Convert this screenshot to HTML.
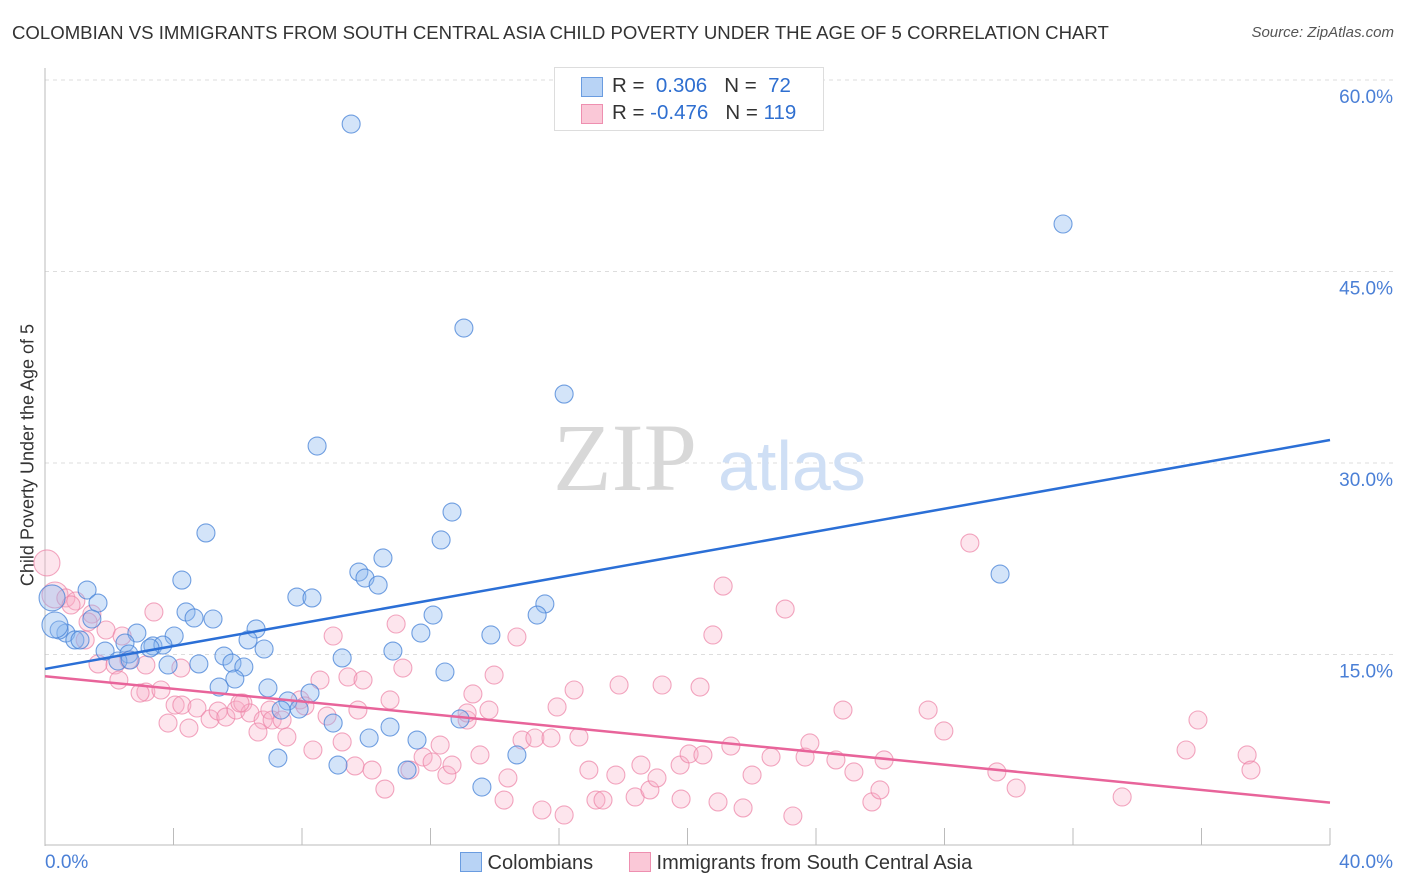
<!DOCTYPE html>
<html><head><meta charset="utf-8"><style>
body{margin:0;background:#fff;font-family:"Liberation Sans",sans-serif;}
#wrap{position:relative;width:1406px;height:892px;overflow:hidden;}
.t{position:absolute;white-space:nowrap;}
</style></head><body>
<div id="wrap">
<div class="t" style="left:12px;top:22px;font-size:18.6px;color:#333;">COLOMBIAN VS IMMIGRANTS FROM SOUTH CENTRAL ASIA CHILD POVERTY UNDER THE AGE OF 5 CORRELATION CHART</div>
<div class="t" style="right:12px;top:24px;font-size:15px;color:#555;font-style:italic;">Source: ZipAtlas.com</div>
<svg id="svg" width="1406" height="892" style="position:absolute;left:0;top:0"></svg>
</div>
<script>
const yTicks=[15,30,45,60];
const xTickLabels=["0.0%","40.0%"];
const blueX=[9.53,31.69,13.04,16.16,8.47,12.67,5.01,12.33,10.52,29.73,9.77,9.96,10.37,4.26,1.31,7.84,8.31,15.56,1.65,4.39,5.23,4.64,15.32,12.08,11.7,13.88,6.57,2.86,4.02,0.65,0.44,0.93,1.09,2.49,3.36,3.67,6.82,10.83,3.27,1.87,2.61,2.27,9.25,5.57,4.79,3.83,5.82,6.19,12.45,5.91,6.94,5.42,8.25,7.56,7.91,7.35,12.92,8.97,10.74,10.09,11.58,14.69,7.25,9.12,11.27,13.6,0.31,0.22,1.46,6.32,2.65];
const blueY=[56.55,48.72,40.57,35.4,31.33,26.16,24.52,23.97,22.56,21.3,21.46,20.99,20.44,20.83,20.05,19.5,19.43,18.96,19.03,18.33,17.78,17.86,18.09,18.09,16.68,16.53,17.0,16.68,16.45,16.68,16.92,16.14,16.14,15.9,15.67,15.74,15.43,15.27,15.51,15.27,15.04,14.49,14.73,14.88,14.26,14.18,14.33,14.02,13.63,13.08,12.38,12.45,11.98,11.36,10.73,10.65,9.95,9.63,9.32,8.46,8.3,7.13,6.89,6.34,5.95,4.62,17.31,19.43,17.78,16.14,14.57];
const pinkX=[0.06,0.31,0.65,0.96,0.81,1.46,1.34,1.9,2.4,3.39,2.61,1.25,1.65,2.18,3.14,3.14,3.61,4.23,2.3,2.96,3.83,4.48,4.05,4.26,4.73,5.14,5.39,5.63,5.95,6.16,6.38,6.79,7.0,6.63,6.07,7.53,7.07,7.38,7.94,8.09,8.56,8.34,8.78,8.97,9.43,9.9,9.25,9.65,10.18,9.74,10.58,10.74,10.93,11.14,11.36,11.77,12.05,12.3,12.51,12.67,13.14,13.32,13.14,13.82,13.98,13.54,14.41,14.29,14.69,14.85,15.25,15.75,15.94,16.47,15.47,16.16,16.62,16.93,17.15,17.37,17.77,17.87,18.37,18.55,18.83,19.05,19.21,19.77,19.8,20.05,20.39,20.48,20.79,20.95,21.11,21.35,21.73,22.01,22.6,23.04,23.28,23.66,23.81,24.62,24.84,25.18,25.74,25.99,26.12,27.49,27.98,28.79,29.63,30.23,33.53,35.52,35.89,37.42,37.54];
const pinkY=[22.17,19.66,19.43,19.19,18.88,18.17,17.55,16.92,16.45,18.33,14.57,16.14,14.26,14.18,14.18,12.06,12.22,13.94,13.0,11.98,9.63,9.24,11.04,11.04,10.81,9.95,10.57,10.1,10.65,11.2,10.42,9.87,10.65,8.93,11.2,8.54,9.87,9.87,11.44,10.97,13.0,7.52,10.18,16.45,13.24,13.0,8.15,6.27,5.95,10.65,4.46,11.44,17.39,13.94,5.95,6.97,6.58,7.91,5.56,6.34,9.87,11.91,10.42,10.65,13.39,7.13,5.33,3.6,16.37,8.3,8.46,8.46,10.89,12.22,2.82,2.43,8.54,5.95,3.6,3.6,5.56,12.61,3.84,6.34,4.39,5.33,12.61,6.34,3.68,7.21,12.45,7.13,16.53,3.45,20.36,7.83,2.98,5.56,6.97,18.56,2.35,6.97,8.07,6.74,10.65,5.8,3.45,4.39,6.74,10.65,9.01,23.73,5.8,4.54,3.84,7.52,9.87,7.13,5.95];
const blueTrend=[13.87,31.8];
const pinkTrend=[13.3,3.4];
const X0=45,X1=1330,Y0=846,PXPER=191.5/15;
const sx=v=>X0+(v/40)*(X1-X0);
const sy=v=>Y0-v*PXPER;
const NS="http://www.w3.org/2000/svg";
const svg=document.getElementById('svg');
function mk(tag,attrs){const e=document.createElementNS(NS,tag);for(const k in attrs)e.setAttribute(k,attrs[k]);svg.appendChild(e);return e;}
yTicks.forEach(v=>{
  const g=mk('line',{x1:X0,x2:1394,y1:sy(v),y2:sy(v),stroke:'#ddd','stroke-dasharray':'4,4'});
  
  
  const t=mk('text',{x:1393,y:sy(v)+23,'text-anchor':'end','font-size':19,fill:'#4a7fd6','font-family':'Liberation Sans, sans-serif'});
  t.textContent=v.toFixed(1)+'%';
  
  
});
const ax=mk('line',{x1:X0,x2:X0,y1:68,y2:846,stroke:'#bbb'});


const bx=mk('line',{x1:X0,x2:X1,y1:845,y2:845,stroke:'#bbb'});


for(let k=1;k<=10;k++){
  const tk=mk('line',{x1:sx(k*4),x2:sx(k*4),y1:828,y2:845,stroke:'#bbb'});
  
  
}
const wm1=mk('text',{x:553,y:490,'font-size':96,fill:'#d8d8d8','font-family':'Liberation Serif, serif'});wm1.textContent='ZIP';


const wm2=mk('text',{x:718,y:490,'font-size':70,fill:'#cfdff5','font-family':'Liberation Sans, sans-serif'});wm2.textContent='atlas';


function dots(xs,ys,fill,stroke,name){
  xs.forEach((x,i)=>{
    const r=x<0.4?13:9;
    const c=mk('circle',{cx:sx(x),cy:sy(ys[i]),r:r,fill:fill,stroke:stroke,'stroke-width':1.1});
    
    
  });
}
dots(pinkX,pinkY,'rgba(248,175,198,0.32)','rgba(236,130,165,0.7)','immigrant-point');
dots(blueX,blueY,'rgba(140,185,240,0.38)','rgba(70,130,215,0.75)','colombian-point');
const bl=mk('line',{x1:sx(0),y1:sy(blueTrend[0]),x2:sx(40),y2:sy(blueTrend[1]),stroke:'#2b6fd6','stroke-width':2.5});


const pl=mk('line',{x1:sx(0),y1:sy(pinkTrend[0]),x2:sx(40),y2:sy(pinkTrend[1]),stroke:'#e8649a','stroke-width':2.5});


</script>
<div class="t" style="left:28px;top:455px;font-size:18px;color:#333;transform:translate(-50%,-50%) rotate(-90deg);">Child Poverty Under the Age of 5</div>
<div class="t" style="left:45px;top:852px;font-size:19px;color:#4a7fd6;">0.0%</div>
<div class="t" style="right:13px;top:852px;font-size:19px;color:#4a7fd6;">40.0%</div>
<div style="position:absolute;left:554px;top:67px;width:268px;height:62px;border:1px solid #ddd;background:#fff;font-size:20.5px;color:#333;">
 <div style="position:absolute;left:26px;top:9px;width:20px;height:18px;background:#b8d3f5;border:1px solid #6a9ce0;"></div>
 <div class="t" style="left:57px;top:6px;">R = &nbsp;<span style="color:#2f6fd0">0.306</span> &nbsp; N = &nbsp;<span style="color:#2f6fd0">72</span></div>
 <div style="position:absolute;left:26px;top:36px;width:20px;height:18px;background:#fac8d7;border:1px solid #ee8fb0;"></div>
 <div class="t" style="left:57px;top:33px;">R = <span style="color:#2f6fd0">-0.476</span> &nbsp; N = <span style="color:#2f6fd0">119</span></div>
</div>
<div style="position:absolute;left:460px;top:852px;font-size:20px;color:#333;">
 <span style="display:inline-block;width:20px;height:18px;background:#b8d3f5;border:1px solid #6a9ce0;vertical-align:-3px;"></span> Colombians</div>
<div style="position:absolute;left:629px;top:852px;font-size:20px;color:#333;">
 <span style="display:inline-block;width:20px;height:18px;background:#fac8d7;border:1px solid #ee8fb0;vertical-align:-3px;"></span> Immigrants from South Central Asia</div>
</body></html>
